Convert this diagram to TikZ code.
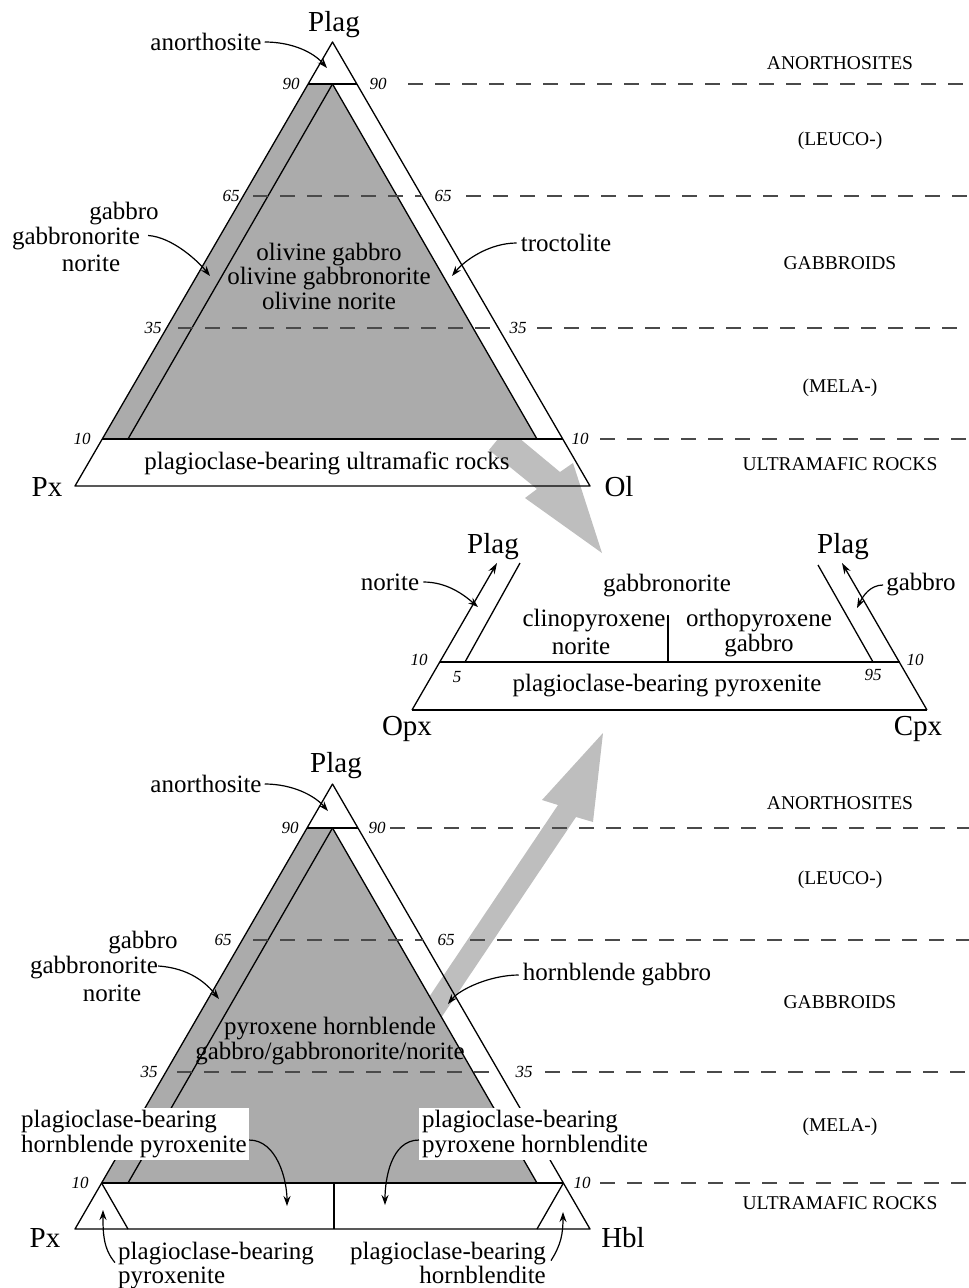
\documentclass[tikz,border=0pt]{standalone}
\usepackage{fontspec}
\setmainfont{Liberation Serif}
\usetikzlibrary{arrows.meta}
\definecolor{trigray}{HTML}{ABABAB}
\definecolor{arwgray}{HTML}{BEBEBE}
\definecolor{dshgray}{HTML}{4A4A4A}
\newcommand\FMain{\fontsize{25}{24.5}\selectfont}
\newcommand\FBig{\fontsize{29}{30}\selectfont}
\newcommand\FNum{\fontsize{17}{17}\selectfont\itshape}
\newcommand\FCap{\fontsize{19.5}{20}\selectfont}
\begin{document}
\begin{tikzpicture}[x=1pt,y=-1pt,line join=round,
  edge/.style={line width=1.3pt},
  dl/.style={draw=dshgray,line width=1.9pt,dash pattern=on 15pt off 12pt},
  lbl/.style={inner sep=0pt,font=\FMain},
  big/.style={inner sep=0pt,font=\FBig},
  num/.style={inner sep=0pt,font=\FNum},
  captext/.style={inner sep=0pt,font=\FCap},
  pt/.style={-{Stealth[length=10pt,width=7pt]},line width=1.2pt},
  boxlbl/.style={lbl,align=left,fill=white,inner xsep=2pt,inner ysep=2.5pt,anchor=west}]
\useasboundingbox (0,0) rectangle (969,1288);

% ---------- coordinates: top triangle ----------
\coordinate (tA) at (332.5,42);
\coordinate (tPx) at (75,486);
\coordinate (tOl) at (590,486);
\coordinate (t90l) at (308.2,84);
\coordinate (t90r) at (356.8,84);
\coordinate (t90m) at (332.5,84);
\coordinate (t10l) at (102.3,439);
\coordinate (t10r) at (562.7,439);
\coordinate (t10il) at (128,439);
\coordinate (t10ir) at (537,439);
% ---------- coordinates: bottom triangle ----------
\coordinate (bA) at (332.5,784);
\coordinate (bPx) at (75,1229);
\coordinate (bHb) at (590,1229);
\coordinate (b90l) at (307.1,828);
\coordinate (b90r) at (357.9,828);
\coordinate (b90m) at (332.5,828);
\coordinate (b10l) at (101.6,1183);
\coordinate (b10r) at (563.4,1183);
\coordinate (b10il) at (128,1183);
\coordinate (b10ir) at (537,1183);
\coordinate (bBl) at (128,1229);
\coordinate (bBr) at (537,1229);
\coordinate (bD0) at (334,1183);
\coordinate (bD1) at (334,1229);
% ---------- coordinates: middle diagram ----------
\coordinate (mO) at (412,710);
\coordinate (mC) at (927,710);
\coordinate (m10a) at (439.5,662);
\coordinate (m10b) at (899.5,662);
\coordinate (mTL) at (497,563);
\coordinate (mTR) at (842,563);
\coordinate (mIL0) at (465,662);
\coordinate (mIL1) at (520,563);
\coordinate (mIR0) at (873,662);
\coordinate (mIR1) at (818,565);
\coordinate (mD0) at (668,615);
\coordinate (mD1) at (668,662);

% ---------- big gray arrows (under the gray fields) ----------
\fill[arwgray] (489,450) -- (537,489) -- (525,498) -- (602,553) -- (573,463) -- (560,472) -- (507,428) -- cycle;
\fill[arwgray] (421,1009) -- (558,805) -- (542,800) -- (603,733) -- (593,822) -- (576,817) -- (439,1021) -- cycle;

% ---------- gray fields ----------
\fill[trigray] (t90l) -- (t10l) -- (t10ir) -- (t90m) -- cycle;
\fill[trigray] (b90l) -- (b10l) -- (b10ir) -- (b90m) -- cycle;

% ---------- top triangle lines ----------
\draw[edge] (tA) -- (tPx) -- (tOl) -- cycle;
\draw[edge] (t90l) -- (t90r);
\draw[edge] (t10l) -- (t10r);
\draw[edge] (t90m) -- (t10il);
\draw[edge] (t90m) -- (t10ir);

% ---------- bottom triangle lines ----------
\draw[edge] (bA) -- (bPx) -- (bHb) -- cycle;
\draw[edge] (b90l) -- (b90r);
\draw[edge] (b10l) -- (b10r);
\draw[edge] (b90m) -- (b10il);
\draw[edge] (b90m) -- (b10ir);
\draw[edge] (b10l) -- (bBl);
\draw[edge] (b10r) -- (bBr);
\draw[edge] (bD0) -- (bD1);

% ---------- middle diagram lines ----------
\draw[edge] (mO) -- (mC);
\draw[edge] (m10a) -- (m10b);
\draw[edge] (mIL0) -- (mIL1);
\draw[edge] (mIR0) -- (mIR1);
\draw[edge] (mD0) -- (mD1);
\draw[edge,-{Stealth[length=11pt,width=7pt]}] (mO) -- (mTL);
\draw[edge,-{Stealth[length=11pt,width=7pt]}] (mC) -- (mTR);

% ---------- dashed level lines: top ----------
\draw[dl] (408,84) -- (969,84);
\draw[dl] (253,196) -- (421.8,196);
\draw[dl] (466,196) -- (969,196);
\draw[dl] (178,328) -- (498.4,328);
\draw[dl] (537,328) -- (969,328);
\draw[dl] (600,439) -- (969,439);
% ---------- dashed level lines: bottom ----------
\draw[dl] (390,828) -- (969,828);
\draw[dl] (253,940) -- (422.7,940);
\draw[dl] (470,940) -- (969,940);
\draw[dl] (177,1072) -- (499,1072);
\draw[dl] (545,1072) -- (969,1072);
\draw[dl] (600,1183) -- (969,1183);

% ---------- numbers ----------
\node[num] (tn90l) at (291,84) {90};
\node[num] (tn90r) at (378,84) {90};
\node[num] (tn65l) at (231,196) {65};
\node[num] (tn65r) at (443,196) {65};
\node[num] (tn35l) at (153,328) {35};
\node[num] (tn35r) at (518,328) {35};
\node[num] (tn10l) at (82,439) {10};
\node[num] (tn10r) at (580,439) {10};
\node[num] (bn90l) at (290,828) {90};
\node[num] (bn90r) at (377,828) {90};
\node[num] (bn65l) at (223,940) {65};
\node[num] (bn65r) at (446,940) {65};
\node[num] (bn35l) at (149,1072) {35};
\node[num] (bn35r) at (524,1072) {35};
\node[num] (bn10l) at (80,1183) {10};
\node[num] (bn10r) at (582,1183) {10};
\node[num] (mn10l) at (419,660) {10};
\node[num] (mn5) at (457,677) {5};
\node[num] (mn95) at (873,675) {95};
\node[num] (mn10r) at (915,660) {10};

% ---------- right-hand column ----------
\node[captext] (tc1) at (840,63) {ANORTHOSITES};
\node[captext] (tc2) at (840,141) {(LEUCO-)};
\node[captext] (tc3) at (840,263) {GABBROIDS};
\node[captext] (tc4) at (840,388) {(MELA-)};
\node[captext] (tc5) at (840,464) {ULTRAMAFIC ROCKS};
\node[captext] (bc1) at (840,803) {ANORTHOSITES};
\node[captext] (bc2) at (840,880) {(LEUCO-)};
\node[captext] (bc3) at (840,1002) {GABBROIDS};
\node[captext] (bc4) at (840,1127) {(MELA-)};
\node[captext] (bc5) at (840,1203) {ULTRAMAFIC ROCKS};

% ---------- top triangle texts ----------
\node[big] (tPlag) at (334,25) {Plag};
\node[big] (tPxL) at (47,487) {Px};
\node[big] (tOlL) at (619,487) {Ol};
\node[lbl] (tAno) at (206,42) {anorthosite};
\node[lbl] (tGab) at (124,214) {gabbro};
\node[lbl] (tGbn) at (76,239) {gabbronorite};
\node[lbl] (tNor) at (91,263) {norite};
\node[lbl,align=center] (tOliv) at (329,276) {olivine gabbro\\olivine gabbronorite\\olivine norite};
\node[lbl] (tTroc) at (566,243) {troctolite};
\node[lbl] (tUltra) at (327,463) {plagioclase-bearing ultramafic rocks};
\coordinate (tAnoP) at (327,68);
\coordinate (tGbnP) at (210,276);
\coordinate (tTrocP) at (452,276);
\draw[pt,shorten <=3pt] (tAno.east) .. controls +(30,0) and +(-14,-16) .. (tAnoP);
\draw[pt,shorten <=8pt] ([yshift=4pt]tGbn.east) .. controls +(32,2) and +(-12,-15) .. (tGbnP);
\draw[pt,shorten <=4pt] (tTroc.west) .. controls +(-32,0) and +(12,-15) .. (tTrocP);

% ---------- middle diagram texts ----------
\node[big] (mPlagL) at (493,547) {Plag};
\node[big] (mPlagR) at (843,547) {Plag};
\node[big] (mOpx) at (407,729) {Opx};
\node[big] (mCpx) at (918,729) {Cpx};
\node[lbl] (mNor) at (390,582) {norite};
\node[lbl] (mGab) at (921,585) {gabbro};
\node[lbl] (mGbn) at (667,586) {gabbronorite};
\node[lbl] (mCl) at (594,621) {clinopyroxene};
\node[lbl] (mNo2) at (581,646) {norite};
\node[lbl] (mOr) at (759,621) {orthopyroxene};
\node[lbl] (mGa2) at (759,646) {gabbro};
\node[lbl] (mPyx) at (667,686) {plagioclase-bearing pyroxenite};
\coordinate (mNorP) at (478,607);
\coordinate (mGabP) at (857,608);
\draw[pt,shorten <=4pt] (mNor.east) .. controls +(28,0) and +(-14,-12) .. (mNorP);
\draw[pt,shorten <=3pt] (mGab.west) .. controls +(-16,0) and +(6,-12) .. (mGabP);

% ---------- bottom triangle texts ----------
\node[big] (bPlag) at (336,766) {Plag};
\node[big] (bPxL) at (45,1238) {Px};
\node[big] (bHbL) at (623,1238) {Hbl};
\node[lbl] (bAno) at (206,784) {anorthosite};
\node[lbl] (bGab) at (143,943) {gabbro};
\node[lbl] (bGbn) at (94,968) {gabbronorite};
\node[lbl] (bNor) at (112,993) {norite};
\node[lbl] (bHg) at (617,975) {hornblende gabbro};
\node[lbl,align=center] (bCen) at (330,1041) {pyroxene hornblende\\gabbro/gabbronorite/norite};
\node[boxlbl] (bBoxL) at (19,1134) {plagioclase-bearing\\hornblende pyroxenite};
\node[boxlbl,inner xsep=3pt] (bBoxR) at (419,1134) {plagioclase-bearing\\pyroxene hornblendite};
\node[lbl,anchor=base west] (bPP1) at (118,1259) {plagioclase-bearing};
\node[lbl,anchor=base west] (bPP2) at (118,1283.5) {pyroxenite};
\node[lbl,anchor=base east] (bPH1) at (546,1259) {plagioclase-bearing};
\node[lbl,anchor=base east] (bPH2) at (546,1283.5) {hornblendite};
\coordinate (bAnoP) at (328,811);
\coordinate (bGbnP) at (219,999);
\coordinate (bHgP) at (448,1004);
\coordinate (bBLP) at (287,1206);
\coordinate (bBRP) at (385,1205);
\coordinate (bPPP) at (103,1210);
\coordinate (bPHP) at (563,1212);
\draw[pt,shorten <=3pt] (bAno.east) .. controls +(30,0) and +(-14,-16) .. (bAnoP);
\draw[pt] ([yshift=2pt]bGbn.east) .. controls +(32,2) and +(-12,-15) .. (bGbnP);
\draw[pt,shorten <=4pt] (bHg.west) .. controls +(-32,0) and +(12,-15) .. (bHgP);
\draw[pt] ([yshift=-6pt]bBoxL.east) .. controls +(28,0) and +(0,-26) .. (bBLP);
\draw[pt] ([yshift=-6pt]bBoxR.west) .. controls +(-28,0) and +(0,-26) .. (bBRP);
\draw[pt] ([xshift=-3pt,yshift=2pt]bPP1.south west) .. controls +(-12,-14) and +(0,22) .. (bPPP);
\draw[pt] ([xshift=5pt,yshift=4pt]bPH1.south east) .. controls +(10,-16) and +(0,22) .. (bPHP);
\end{tikzpicture}
\end{document}
